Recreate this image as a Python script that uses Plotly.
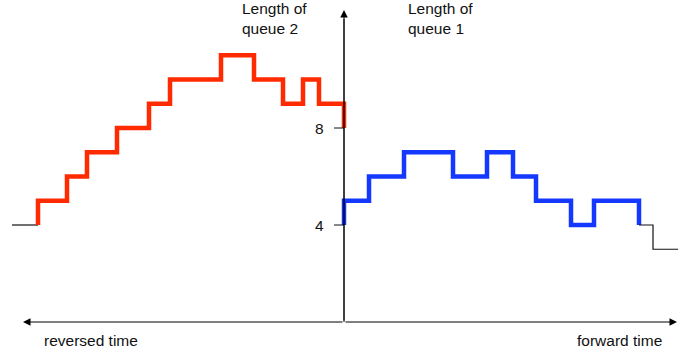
import plotly.graph_objects as go

# Queue 2 (reversed time, left side): change times and lengths (step shape 'vh')
q2_lead_t = [-332, -306]
q2_lead_len = [4, 4]
q2_t = [-306, -277, -257, -227, -195, -174, -123, -90, -61, -41, -25, 0, 0]
q2_len = [4, 5, 6, 7, 8, 9, 10, 11, 10, 9, 10, 9, 8]

# Queue 1 (forward time, right side)
q1_t = [0, 25, 60, 109, 143, 169, 192, 227, 250, 295, 295]
q1_len = [4, 5, 6, 7, 6, 7, 6, 5, 4, 5, 4]
q1_tail_t = [295, 309, 334]
q1_tail_len = [4, 4, 3]

tick_vals = [4, 8]
tick_text = ["4", "8"]

FONT = "Liberation Sans, Arial, Helvetica, sans-serif"
FS = 15.5
RED = "#ff2a00"
BLUE = "#1438ff"

fig = go.Figure()
fig.add_trace(go.Scatter(x=q2_lead_t, y=q2_lead_len, mode="lines", line=dict(color="#111", width=1.2), hoverinfo="skip"))
fig.add_trace(go.Scatter(x=q2_t, y=q2_len, mode="lines", line=dict(color=RED, width=4.5, shape="vh"), hoverinfo="skip"))
fig.add_trace(go.Scatter(x=q1_t, y=q1_len, mode="lines", line=dict(color=BLUE, width=4.5, shape="vh"), hoverinfo="skip"))
fig.add_trace(go.Scatter(x=q1_tail_t, y=q1_tail_len, mode="lines", line=dict(color="#111", width=1.2, shape="vh"), hoverinfo="skip"))

# tick marks on the vertical axis
for v in tick_vals:
    fig.add_shape(type="line", x0=-10, x1=0, y0=v, y1=v, xref="x", yref="y", line=dict(color="#111", width=1))

ann = []
# vertical axis with arrow
ann.append(dict(x=0, y=12.87, ax=0, ay=0, xref="x", yref="y", axref="x", ayref="y", text="",
                showarrow=True, arrowhead=2, arrowsize=1.5, arrowwidth=1, arrowcolor="#000", standoff=0))
# horizontal axis arrows
ann.append(dict(x=-321, y=0, ax=0, ay=0, xref="x", yref="y", axref="x", ayref="y", text="",
                showarrow=True, arrowhead=2, arrowsize=1.5, arrowwidth=1, arrowcolor="#000", standoff=0))
ann.append(dict(x=333, y=0, ax=0, ay=0, xref="x", yref="y", axref="x", ayref="y", text="",
                showarrow=True, arrowhead=2, arrowsize=1.5, arrowwidth=1, arrowcolor="#000", standoff=0))
for v, t in zip(tick_vals, tick_text):
    ann.append(dict(x=-25, y=v, xref="x", yref="y", text=t, showarrow=False,
                    font=dict(family=FONT, size=FS, color="#111"), xanchor="center", yanchor="middle"))
ann.append(dict(x=-104, y=1, xref="x", yref="paper", text="Length of<br>queue 2", showarrow=False, align="left",
                font=dict(family=FONT, size=FS, color="#111"), xanchor="left", yanchor="top", yshift=2))
ann.append(dict(x=62, y=1, xref="x", yref="paper", text="Length of<br>queue 1", showarrow=False, align="left",
                font=dict(family=FONT, size=FS, color="#111"), xanchor="left", yanchor="top", yshift=2))
ann.append(dict(x=-302, y=340, xref="x", yref="paper", text="reversed time", showarrow=False,
                font=dict(family=FONT, size=FS, color="#111"), xanchor="left", yanchor="middle"))
ann.append(dict(x=320, y=340, xref="x", yref="paper", text="forward time", showarrow=False,
                font=dict(family=FONT, size=FS, color="#111"), xanchor="right", yanchor="middle"))
# convert pixel-ish y for bottom labels into paper coords
for a in ann:
    if a.get("yref") == "paper" and a["y"] > 1:
        a["y"] = 1 - a["y"] / 353

fig.update_layout(
    annotations=ann,
    width=679, height=353, autosize=False,
    margin=dict(l=0, r=0, t=0, b=0),
    paper_bgcolor="white", plot_bgcolor="white",
    showlegend=False,
    xaxis=dict(range=[-344, 335], visible=False, fixedrange=True),
    yaxis=dict(range=[-1.278, 13.278], visible=False, fixedrange=True),
)
fig.add_shape(type="line", x0=0, x1=0, y0=0, y1=12.5, xref="x", yref="y", line=dict(color="#000", width=1))
fig.write_html("out.html", config={"displayModeBar": False},
               post_script="document.body.style.margin='0';document.body.style.padding='0';")
